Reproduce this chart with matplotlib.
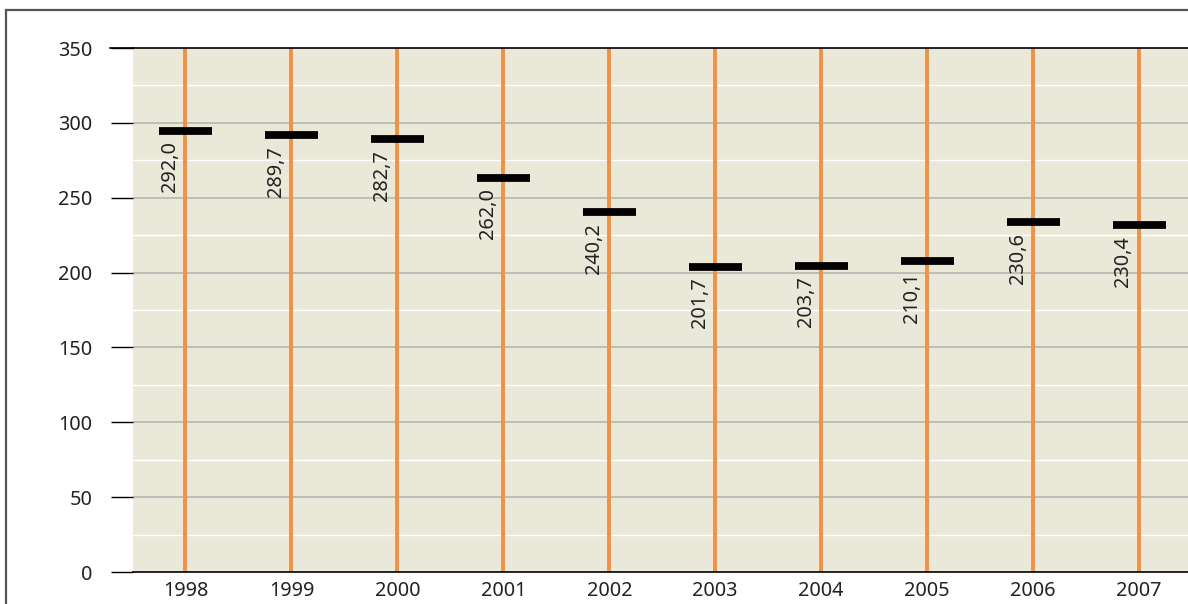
import matplotlib
matplotlib.use("Agg")
import matplotlib.pyplot as plt
from matplotlib.patches import Rectangle

years = ["1998", "1999", "2000", "2001", "2002", "2003", "2004", "2005", "2006", "2007"]
marker_values = [294.8, 291.6, 289.0, 263.5, 240.2, 204.0, 204.7, 207.4, 233.5, 231.5]
label_texts = ["292,0", "289,7", "282,7", "262,0", "240,2", "201,7", "203,7", "210,1", "230,6", "230,4"]
line_low = [0] * 10
line_high = [350] * 10
y_ticks = [0, 50, 100, 150, 200, 250, 300, 350]

plt.rcParams['font.family'] = ['Noto Sans', 'DejaVu Sans']

W, H = 1188, 604
fig = plt.figure(figsize=(W / 100, H / 100), dpi=100)

# outer frame
fig.patches.append(Rectangle((6 / W, -0.1), 1.2, (604 - 10) / H + 0.1, transform=fig.transFigure,
                             fill=False, edgecolor="#555555", linewidth=1.6, zorder=0))

left_px, right_px, top_px, bot_px = 132.5, 1192, 48, 572
ax = fig.add_axes([left_px / W, (H - bot_px) / H, (right_px - left_px) / W, (bot_px - top_px) / H])
ax.set_facecolor("#EAE8D8")

x = list(range(len(years)))
ax.set_xlim(-0.5, len(years) - 0.5)
ax.set_ylim(0, 350)

# grid lines
for v in range(25, 350, 50):
    ax.axhline(v, color="white", lw=1.0, zorder=1)
for v in range(50, 350, 50):
    ax.axhline(v, color="#B5B5B5", lw=1.2, zorder=1)

ax.vlines(x, line_low, line_high, color="#F39143", lw=2.8, zorder=2)
ax.hlines(marker_values, [i - 0.25 for i in x], [i + 0.25 for i in x], color="black", lw=5.6,
          capstyle="butt", zorder=3)

FS = 14.3
for i, (mv, t) in enumerate(zip(marker_values, label_texts)):
    ax.annotate(t, (i, mv), xytext=(-4.0, -7.5), textcoords="offset points", rotation=90,
                ha="right", va="top", fontsize=FS, color="#222222", zorder=4)

ax.set_yticks(y_ticks)
ax.set_yticklabels([str(v) for v in y_ticks])
ax.set_xticks(x)
ax.set_xticklabels(years)
ax.tick_params(axis="y", length=16, width=1.0, color="black", pad=13, labelsize=FS, labelcolor="#222222")
ax.tick_params(axis="x", length=0, pad=6.5, labelsize=FS, labelcolor="#222222")
for s in ["left", "right"]:
    ax.spines[s].set_visible(False)
for s in ["top", "bottom"]:
    ax.spines[s].set_color("black")
    ax.spines[s].set_linewidth(1.2)
# extend top line to the tick start
ax.plot([-0.5 - 22 / 105.9, -0.5], [350, 350], color="black", lw=1.2, clip_on=False)

fig.savefig("out.png", dpi=100)
